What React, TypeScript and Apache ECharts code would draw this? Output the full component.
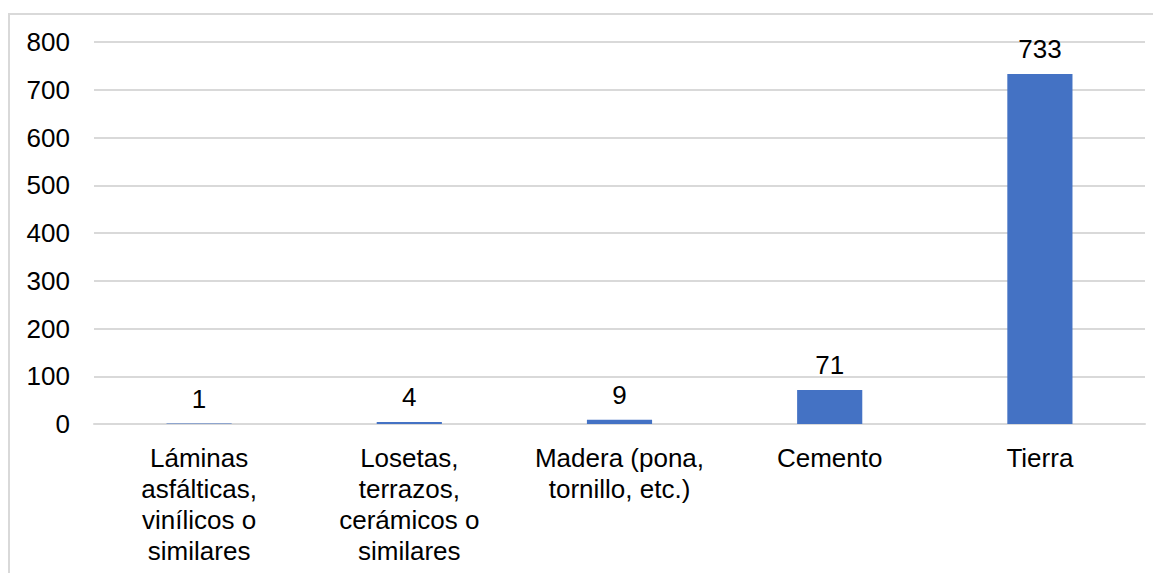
import React, { useEffect, useRef } from "react";
import * as echarts from "echarts";

const categories = [
  "Láminas\nasfálticas,\nvinílicos o\nsimilares",
  "Losetas,\nterrazos,\ncerámicos o\nsimilares",
  "Madera (pona,\ntornillo, etc.)",
  "Cemento",
  "Tierra",
];
const values = [1, 4, 9, 71, 733];
const yMin = 0;
const yMax = 800;
const yInterval = 100;

export default function App() {
  const ref = useRef<HTMLDivElement>(null);
  useEffect(() => {
    if (!ref.current) return;
    const chart = echarts.init(ref.current, null, { renderer: "svg" });
    const font = "Liberation Sans, Arial, sans-serif";
    chart.setOption({
      animation: false,
      grid: { left: 84, right: 45, top: 27, bottom: 191, containLabel: false },
      xAxis: {
        type: "category",
        data: categories,
        axisLine: { show: true, lineStyle: { color: "#d9d9d9", width: 2 } },
        axisTick: { show: false },
        axisLabel: {
          color: "#000",
          fontFamily: font,
          fontSize: 26,
          lineHeight: 31,
          margin: 18,
          interval: 0,
        },
      },
      yAxis: {
        type: "value",
        min: yMin,
        max: yMax,
        interval: yInterval,
        axisLine: { show: false },
        axisTick: { show: false },
        splitLine: { lineStyle: { color: "#d9d9d9", width: 2 } },
        axisLabel: { color: "#000", fontFamily: font, fontSize: 26, margin: 24 },
      },
      series: [
        {
          type: "bar",
          data: values,
          barWidth: "31%",
          itemStyle: { color: "#4472C4" },
          label: {
            show: true,
            position: "top",
            distance: 12,
            color: "#000",
            fontFamily: font,
            fontSize: 26,
          },
        },
      ],
    });
    return () => chart.dispose();
  }, []);
  return (
    <div
      ref={ref}
      style={{
        width: 1180,
        height: 600,
        marginTop: 5,
        border: "2px solid #d9d9d9",
      }}
    />
  );
}
